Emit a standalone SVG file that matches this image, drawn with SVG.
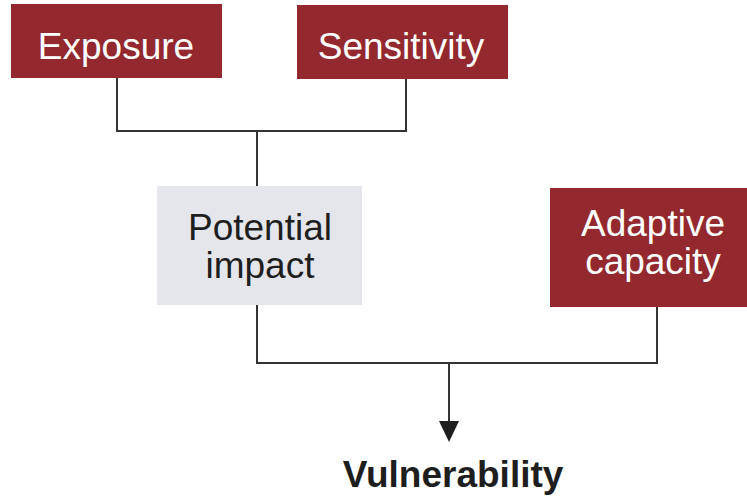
<svg xmlns="http://www.w3.org/2000/svg" width="747" height="496" viewBox="0 0 747 496">
<style>
.red{fill:#93292f}
.gray{fill:#e5e6eb}
.wt{fill:#ffffff;font-family:"Liberation Sans",Arial,sans-serif;font-size:37px;text-anchor:middle}
.dk{fill:#1e1e1e;font-family:"Liberation Sans",Arial,sans-serif;font-size:37px;text-anchor:middle}
.ln{fill:none;stroke:#333333;stroke-width:2}
</style>
<rect width="747" height="496" fill="#ffffff"/>
<g id="connectors">
<path class="ln" d="M117,78 V131 H406 V79"/>
<path class="ln" d="M257,131 V186"/>
<path class="ln" d="M257,305 V363 H657 V307"/>
<path d="M449,363 V422" class="ln"/>
<path d="M439,421 L459,421 L449,442 Z" fill="#1e1e1e"/>
</g>
<g id="exposure">
<rect class="red" x="11" y="4" width="211" height="74"/>
<text class="wt" x="116" y="59">Exposure</text>
</g>
<g id="sensitivity">
<rect class="red" x="297" y="5" width="211" height="74"/>
<text class="wt" x="401" y="59">Sensitivity</text>
</g>
<g id="potential-impact">
<rect class="gray" x="157" y="186" width="205" height="119"/>
<text class="dk" x="260" y="240">Potential</text>
<text class="dk" x="260" y="278">impact</text>
</g>
<g id="adaptive-capacity">
<rect class="red" x="550" y="188" width="197" height="119"/>
<text class="wt" x="653" y="236">Adaptive</text>
<text class="wt" x="653" y="274">capacity</text>
</g>
<g id="vulnerability">
<text class="dk" x="453" y="487" font-weight="bold">Vulnerability</text>
</g>
</svg>
